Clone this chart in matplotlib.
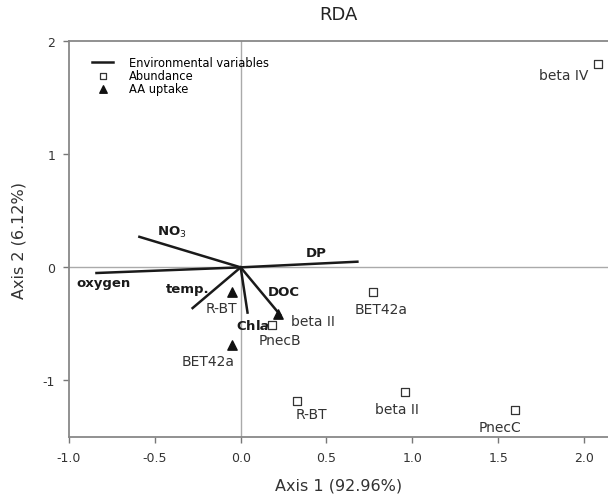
import matplotlib.pyplot as plt

# environmental variable vectors (end points)
env_names = ["oxygen", "NO$_3$", "DP", "temp.", "Chl$\\mathbfit{a}$", "DOC"]
env_x = [-0.84, -0.59, 0.68, -0.28, 0.04, 0.23]
env_y = [-0.05, 0.27, 0.05, -0.36, -0.40, -0.42]
env_lx = [-0.80, -0.40, 0.44, -0.31, 0.07, 0.25]
env_ly = [-0.13, 0.32, 0.13, -0.19, -0.51, -0.21]

# abundance (open squares)
ab_names = ["beta IV", "BET42a", "PnecB", "R-BT", "beta II", "PnecC"]
ab_x = [2.08, 0.77, 0.18, 0.33, 0.96, 1.60]
ab_y = [1.80, -0.22, -0.51, -1.18, -1.10, -1.26]
ab_lx = [1.88, 0.82, 0.23, 0.41, 0.91, 1.51]
ab_ly = [1.70, -0.37, -0.64, -1.30, -1.25, -1.41]

# AA uptake (filled triangles)
aa_names = ["R-BT", "beta II", "BET42a"]
aa_x = [-0.05, 0.22, -0.05]
aa_y = [-0.22, -0.41, -0.69]
aa_lx = [-0.11, 0.42, -0.19]
aa_ly = [-0.36, -0.47, -0.83]

fig = plt.figure(figsize=(6.08, 5.02), dpi=100)
ax = fig.add_axes([0.1135, 0.1275, 0.8865, 0.7885])

ax.axhline(0, color="#aaaaaa", lw=1, zorder=1)
ax.axvline(0, color="#aaaaaa", lw=1, zorder=1)

for i in range(len(env_x)):
    ax.plot([0, env_x[i]], [0, env_y[i]], color="#1a1a1a", lw=1.8, zorder=2,
            label="Environmental variables" if i == 0 else None)
    ax.text(env_lx[i], env_ly[i], env_names[i], fontsize=9.5, fontweight="bold",
            ha="center", va="center", color="#1a1a1a")

ax.scatter(ab_x, ab_y, marker="s", s=28, facecolors="white", edgecolors="#333333",
           linewidths=0.9, zorder=3, label="Abundance")
for i in range(len(ab_x)):
    ax.text(ab_lx[i], ab_ly[i], ab_names[i], fontsize=10, ha="center", va="center",
            color="#333333")

ax.scatter(aa_x, aa_y, marker="^", s=45, color="#111111", zorder=3, label="AA uptake")
for i in range(len(aa_x)):
    ax.text(aa_lx[i], aa_ly[i], aa_names[i], fontsize=10, ha="center", va="center",
            color="#333333")

ax.set_xlim(-1.0, 2.14)
ax.set_ylim(-1.5, 2.0)
ax.set_xticks([-1.0, -0.5, 0.0, 0.5, 1.0, 1.5, 2.0])
ax.set_xticklabels(["-1.0", "-0.5", "0.0", "0.5", "1.0", "1.5", "2.0"])
ax.set_yticks([-1, 0, 1, 2])
ax.set_yticklabels(["-1", "0", "1", "2"])
ax.tick_params(direction="out", length=4, color="#777777", labelsize=9,
               labelcolor="#333333", width=1, pad=6)
for s in ["left", "bottom", "top"]:
    ax.spines[s].set_color("#888888")
    ax.spines[s].set_linewidth(1.3)
ax.spines["right"].set_visible(False)

ax.set_xlabel("Axis 1 (92.96%)", fontsize=11.5, color="#333333", labelpad=10)
ax.set_ylabel("Axis 2 (6.12%)", fontsize=11.5, color="#333333", labelpad=12)
ax.set_title("RDA", fontsize=13, color="#222222", pad=16)

leg = ax.legend(loc="upper left", frameon=False, fontsize=8.3, handlelength=1.8,
                handletextpad=1.4, labelspacing=0.0, borderaxespad=0.0,
                markerscale=0.8, bbox_to_anchor=(0.035, 0.975))

fig.savefig("out.png", dpi=100)
